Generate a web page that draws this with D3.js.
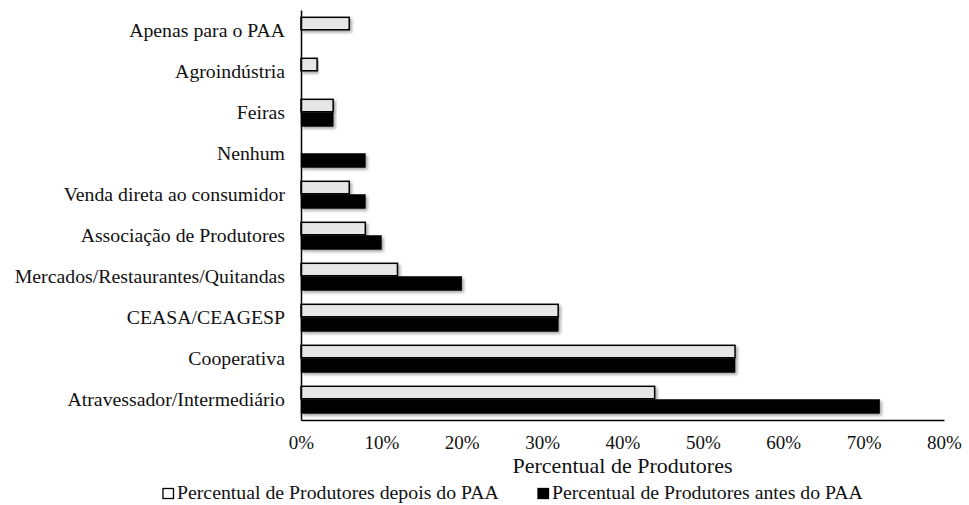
<!DOCTYPE html>
<html><head><meta charset="utf-8">
<script src="https://cdn.jsdelivr.net/npm/d3@7/dist/d3.min.js"></script>
<style>body{margin:0;background:#fff} svg text{font-family:"Liberation Serif","Times New Roman",serif !important;fill:#111}</style>
</head><body>
<svg id="c" width="969" height="505"></svg>
<script>
const categories = ["Apenas para o PAA","Agroindústria","Feiras","Nenhum","Venda direta ao consumidor","Associação de Produtores","Mercados/Restaurantes/Quitandas","CEASA/CEAGESP","Cooperativa","Atravessador/Intermediário"];
const depois = [6, 2, 4, 0, 6, 8, 12, 32, 54, 44];
const antes  = [0, 0, 4, 8, 8, 10, 20, 32, 54, 72];
const seriesNames = ["Percentual de Produtores depois do PAA","Percentual de Produtores antes do PAA"];
const xTicks = [0,10,20,30,40,50,60,70,80];

const svg = d3.select("#c");
const L = 301, R = 944, T = 10, B = 420;
const x = d3.scaleLinear().domain([0,80]).range([L,R]);
const y = d3.scaleBand().domain(categories).range([T,B]).paddingInner(0.32).paddingOuter(0.16);
const ys = d3.scaleBand().domain([0,1]).range([0,y.bandwidth()]);

const defs = svg.append("defs");
const f = defs.append("filter").attr("id","sh").attr("x","-5%").attr("y","-30%").attr("width","115%").attr("height","180%");
f.append("feDropShadow").attr("dx",2).attr("dy",2).attr("stdDeviation",1.8).attr("flood-color","#000").attr("flood-opacity",0.35);

const data = categories.map((c,i)=>({c, v:[depois[i], antes[i]]}));
const g = svg.append("g");
data.forEach(d=>{
  d.v.forEach((v,s)=>{
    if(v<=0) return;
    g.append("rect")
      .attr("x", x(0))
      .attr("y", y(d.c)+ys(s)+(s===0?0.75:0))
      .attr("width", x(v)-x(0))
      .attr("height", ys.bandwidth()-(s===0?1.5:0))
      .attr("fill", s===0 ? "#e6e6e6" : "#000")
      .attr("stroke", "#000")
      .attr("stroke-width", s===0?1.5:0.5)
      .attr("filter","url(#sh)");
  });
});

const xa = svg.append("g").attr("transform",`translate(0,${B})`)
  .call(d3.axisBottom(x).tickValues(xTicks).tickFormat(d=>d+"%").tickSize(0).tickPadding(16));
xa.select(".domain").attr("stroke","#000").attr("stroke-width",1.5);
xa.selectAll("text").attr("font-size",19);

const ya = svg.append("g").attr("transform",`translate(${L},0)`)
  .call(d3.axisLeft(y).tickSize(0).tickPadding(16));
ya.select(".domain").attr("stroke","#000").attr("stroke-width",1.5);
ya.selectAll("text").attr("font-size",19.8);

svg.append("text").attr("x",(L+R)/2).attr("y",473).attr("text-anchor","middle")
  .attr("font-size",22).text("Percentual de Produtores");

const leg = [{x:163, fill:"#fff", name:seriesNames[0]},{x:538, fill:"#000", name:seriesNames[1]}];
leg.forEach(l=>{
  svg.append("rect").attr("x",l.x).attr("y",488.5).attr("width",10.5).attr("height",10)
    .attr("fill",l.fill).attr("stroke","#000").attr("stroke-width",1.3);
  svg.append("text").attr("x",l.x+14).attr("y",499).attr("font-size",19.8).text(l.name);
});
</script>
</body></html>
